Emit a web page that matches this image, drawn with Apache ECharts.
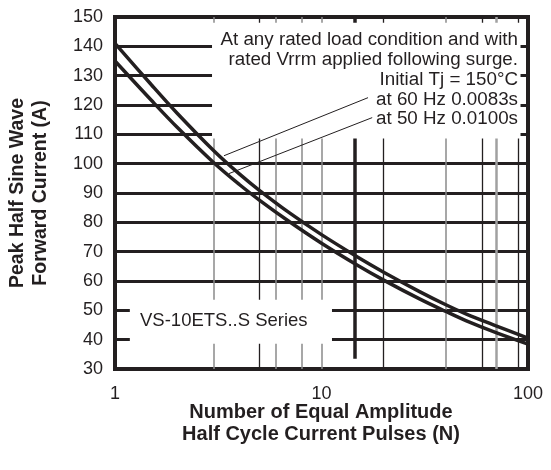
<!DOCTYPE html>
<html><head><meta charset="utf-8">
<script src="https://cdn.jsdelivr.net/npm/echarts/dist/echarts.min.js"></script>
<style>html,body{margin:0;padding:0;background:#fff}#c{width:551px;height:470px}</style>
</head><body><div id="c"></div>
<script>
// ---- data ----
const pulses      = [1, 1.5, 2, 3, 4, 5, 7, 10, 15, 20, 30, 40, 50, 70, 100];
const current60Hz = [141, 126.9, 117.2, 104.5, 96.5, 90.9, 83.2, 75.8, 68.1, 63.0, 56.3, 51.9, 48.8, 44.7, 40.5];
const current50Hz = [135, 121.6, 112.4, 100.4, 92.9, 87.6, 80.2, 72.9, 65.3, 60.3, 53.8, 49.6, 46.5, 42.4, 38.5];
const yMin = 30, yMax = 150, yStep = 10;
const xTickLabels = ['1', '10', '100'];
const gridBlackN = [5, 20, 60, 90];
const gridGrayN = [3, 6, 8, 10, 40];
const gridLightN = [70];
const gridHeavyN = [14.5];
const heavyFrom = 33.5;
const noteBox = [[2.95, 108.6], [92, 148.0]];
const seriesBox = [[1.18, 38.6], [11.24, 53.6]];
const annotationLines = [
  'At any rated load condition and with',
  'rated Vrrm applied following surge.',
  'Initial Tj = 150°C',
  'at 60 Hz 0.0083s',
  'at 50 Hz 0.0100s'
];
const leader60 = [[16.8, 122.5], [3.37, 102.7]];
const leader50 = [[17.6, 115.7], [3.56, 96.6]];
const seriesName = 'VS-10ETS..S Series';
const xTitle = ['Number of Equal Amplitude', 'Half Cycle Current Pulses (N)'];
const yTitle = ['Peak Half Sine Wave', 'Forward Current (A)'];

// ---- chart ----
const INK = '#231f20';
const FONT = '"Liberation Sans", Arial, Helvetica, sans-serif';
const chart = echarts.init(document.getElementById('c'), null, {renderer: 'canvas'});

function vLines(list, from, to) {
  return list.map(n => [{coord: [n, from]}, {coord: [n, to]}]);
}
function gridSeries(list, from, color, width) {
  return {
    type: 'line', data: [], z: 1, silent: true, showSymbol: false,
    markLine: {
      z: 1, silent: true, symbol: 'none', animation: false, label: {show: false},
      lineStyle: {color: color, width: width, type: 'solid'},
      emphasis: {disabled: true},
      data: vLines(list, from, yMax)
    }
  };
}
function leaderSeries(pts) {
  return {
    type: 'line', data: [], z: 12, silent: true, showSymbol: false,
    markLine: {
      z: 12, silent: true, symbol: 'none', animation: false, label: {show: false},
      lineStyle: {color: INK, width: 1, type: 'solid'},
      emphasis: {disabled: true},
      data: [[{coord: pts[0]}, {coord: pts[1]}]]
    }
  };
}
function curve(vals) {
  return {
    type: 'line', z: 10, smooth: 0.35, showSymbol: false, symbol: 'none',
    lineStyle: {color: INK, width: 3.5},
    data: pulses.map((n, i) => [n, vals[i]])
  };
}

const option = {
  animation: false,
  backgroundColor: '#fff',
  grid: {left: 115, right: 23, top: 17, bottom: 101, show: true, borderColor: INK, borderWidth: 4, backgroundColor: 'transparent'},
  xAxis: {
    type: 'log', logBase: 10, min: 1, max: 100,
    axisLine: {show: false}, axisTick: {show: false}, splitLine: {show: false}, minorTick: {show: false},
    axisLabel: {fontSize: 18, fontFamily: FONT, color: INK, margin: 16,
      formatter: v => xTickLabels.includes(String(v)) ? String(v) : ''}
  },
  yAxis: {
    type: 'value', min: yMin, max: yMax, interval: yStep,
    axisLine: {show: false}, axisTick: {show: false},
    splitLine: {show: true, lineStyle: {color: INK, width: 3}},
    axisLabel: {fontSize: 18, fontFamily: FONT, color: INK, margin: 12}
  },
  series: [
    gridSeries(gridGrayN, yMin, '#8a8a8a', 1.5),
    gridSeries(gridBlackN, yMin, INK, 1.3),
    gridSeries(gridLightN, yMin, '#a0a0a0', 2.5),
    gridSeries(gridHeavyN, heavyFrom, INK, 3.5),
    {
      type: 'line', data: [], z: 5, silent: true, showSymbol: false,
      markArea: {
        z: 5, silent: true, animation: false, label: {show: false},
        itemStyle: {color: '#ffffff', opacity: 1, borderWidth: 0},
        emphasis: {disabled: true},
        data: [
          [{coord: noteBox[0]}, {coord: noteBox[1]}],
          [{coord: seriesBox[0]}, {coord: seriesBox[1]}]
        ]
      }
    },
    curve(current60Hz),
    curve(current50Hz),
    leaderSeries(leader60),
    leaderSeries(leader50)
  ],
  graphic: [
    ...annotationLines.map((t, i) => ({
      type: 'text', z: 20, silent: true, x: 518, y: 40 + i * 19.8,
      style: {text: t, fill: INK, font: '18.8px ' + FONT, textAlign: 'right', textVerticalAlign: 'middle'}
    })),
    {type: 'text', z: 20, silent: true, x: 140, y: 321,
      style: {text: seriesName, fill: INK, font: '18.5px ' + FONT, textAlign: 'left', textVerticalAlign: 'middle'}},
    {type: 'text', z: 20, silent: true, x: 321, y: 423,
      style: {text: xTitle.join('\n'), fill: INK, font: 'bold 20px ' + FONT, lineHeight: 22, textAlign: 'center', textVerticalAlign: 'middle'}},
    {type: 'text', z: 20, silent: true, x: 29, y: 193, rotation: Math.PI / 2,
      style: {text: yTitle.join('\n'), fill: INK, font: 'bold 19.5px ' + FONT, lineHeight: 23, textAlign: 'center', textVerticalAlign: 'middle'}}
  ]
};
chart.setOption(option);
</script>
</body></html>
